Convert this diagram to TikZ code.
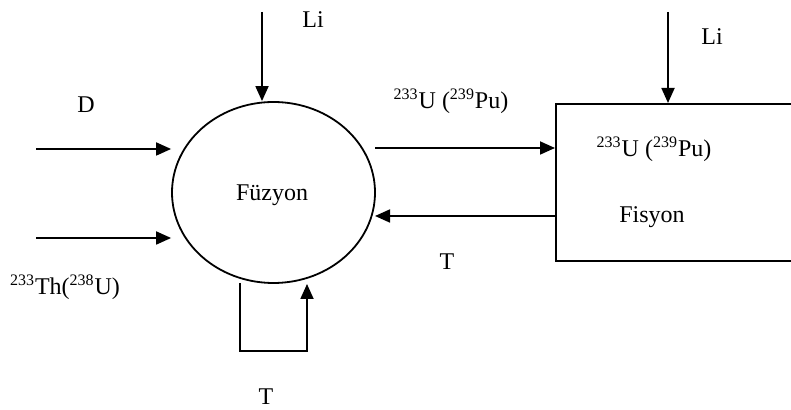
\documentclass[tikz,border=0pt]{standalone}
\usepackage{fontspec}
\setmainfont{Liberation Serif}
\usetikzlibrary{arrows.meta,shapes.geometric}
\begin{document}
\begin{tikzpicture}[x=0.5pt,y=-0.5pt,
  line width=0.9pt,
  arr/.style={-{Triangle[length=7.5pt,width=6.5pt]}},
  lbl/.style={font=\fontsize{12}{14}\selectfont, inner sep=0pt}]
\useasboundingbox (0,0) rectangle (791,410);
\clip (0,0) rectangle (791,410);
% main shapes
\node[draw, ellipse, minimum width=101.5pt, minimum height=90.5pt, inner sep=0pt] (fz) at (273.5,192.5) {};
\node[lbl] (fzt) at (272,195) {Füzyon};
\node[draw, rectangle, anchor=north west, minimum width=150pt, minimum height=78.5pt, inner sep=0pt] (fis) at (555,103) {};
% coordinates for free ends
\coordinate (liA) at (262,12);
\coordinate (liB) at (668,12);
\coordinate (dA) at (36,149);
\coordinate (thA) at (36,238);
\coordinate (uA) at (375,148);
\coordinate (tA) at (375,216);
\coordinate (lpL) at (240,283);
\coordinate (lpB) at (240,351);
\coordinate (lpC) at (307,351);
\coordinate (lpR) at (307,284);
% connectors
\draw[arr] (liA) -- (liA |- fz.north);
\draw[arr] (liB) -- (liB |- fis.north);
\draw[arr] (dA) -- (dA -| fz.west);
\draw[arr] (thA) -- (thA -| fz.west);
\draw[arr] (uA) -- (uA -| fis.west);
\draw[arr] (tA -| fis.west) -- (tA);
\draw[arr] (lpL) -- (lpB) -- (lpC) -- (lpR);
% labels
\node[lbl] (l1) at (313,20) {Li};
\node[lbl] (l2) at (712,37) {Li};
\node[lbl] (l3) at (86,105) {D};
\node[lbl] (l4) at (65,287) {\textsuperscript{233}Th(\textsuperscript{238}U)};
\node[lbl] (l5) at (451,101) {\textsuperscript{233}U (\textsuperscript{239}Pu)};
\node[lbl] (l6) at (654,149) {\textsuperscript{233}U (\textsuperscript{239}Pu)};
\node[lbl] (l7) at (652,217) {Fisyon};
\node[lbl] (l8) at (447,262) {T};
\node[lbl] (l9) at (266,397) {T};
\end{tikzpicture}
\end{document}
